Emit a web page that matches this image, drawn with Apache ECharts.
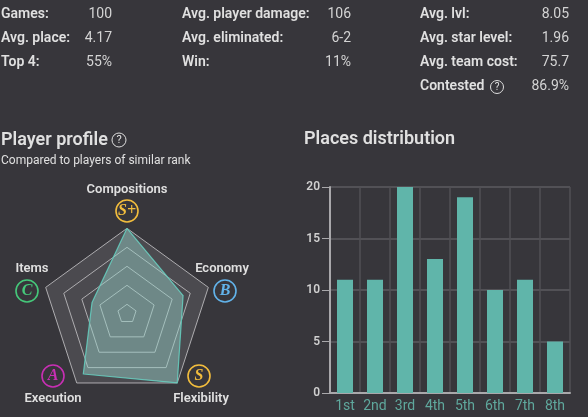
<!DOCTYPE html>
<html><head><meta charset="utf-8">
<style>html,body{margin:0;padding:0;background:#37363b}#c{width:588px;height:417px}</style>
<script src="https://cdn.jsdelivr.net/npm/echarts@6/dist/echarts.min.js"></script>
</head><body><div id="c"></div>
<script>
const places = ['1st','2nd','3rd','4th','5th','6th','7th','8th'];
const placeCounts = [11,11,20,13,19,10,11,5];
const yTicks = [0,5,10,15,20];
const profileAxes = ['Compositions','Items','Execution','Flexibility','Economy'];
const profileValues = [100,43,87,100,69];
const profileGrades = ['S+','C','A','S','B'];
const gradeColors = ['#f2bd3d','#45c87a','#c82fb4','#f2bd3d','#62b3ea'];
const statsCol1 = [['Games:','100'],['Avg. place:','4.17'],['Top 4:','55%']];
const statsCol2 = [['Avg. player damage:','106'],['Avg. eliminated:','6-2'],['Win:','11%']];
const statsCol3 = [['Avg. lvl:','8.05'],['Avg. star level:','1.96'],['Avg. team cost:','75.7'],['Contested','86.9%']];

const F='Roboto';
const g=[];
function txt(x,y,t,o={}){g.push({type:'text',x,y,silent:true,style:Object.assign({text:t,fill:'#e0e0e0',font:`${o.w||600} ${o.s||14}px ${F}`,textAlign:o.a||'left',textVerticalAlign:'middle'},o.extra||{})});}
function col(rows,lx,vx){rows.forEach((r,i)=>{const y=14.5+i*24;txt(lx,y,r[0],{w:600,s:14});txt(vx,y,r[1],{w:400,s:14,a:'right',extra:{fill:'#d4d4d4'}});});}
col(statsCol1,1,112);col(statsCol2,182,351);col(statsCol3,420,569);
function help(cx,cy,r,s){g.push({type:'circle',silent:true,shape:{cx,cy,r},style:{fill:'none',stroke:'#dedede',lineWidth:1}});
  txt(cx,cy+.5,'?',{w:400,s,a:'center'});}
help(497,87,6.5,10);
txt(1,140,'Player profile',{w:600,s:18});
help(119,140,7,11);
txt(1,160.5,'Compared to players of similar rank',{w:400,s:12});
txt(304,139,'Places distribution',{w:600,s:18});
const labelPos=[[127,189.5,127,211],[32,269,27,291],[53,399,53,376],[201,399,199,376],[222,269,225,291]];
profileAxes.forEach((n,i)=>{const p=labelPos[i];
  txt(p[0],p[1],n,{w:600,s:13,a:'center'});
  g.push({type:'circle',silent:true,shape:{cx:p[2],cy:p[3],r:11},style:{fill:'none',stroke:gradeColors[i],lineWidth:1.6}});
  g.push({type:'text',x:p[2],y:p[3],silent:true,style:{text:profileGrades[i],fill:gradeColors[i],font:`italic 700 16px "Liberation Serif"`,textAlign:'center',textVerticalAlign:'middle'}});
});

const chart=echarts.init(document.getElementById('c'),null,{renderer:'canvas'});
chart.setOption({
  backgroundColor:'#37363b',animation:false,
  grid:{left:330,top:187,width:240,height:206,containLabel:false},
  xAxis:{type:'category',data:places,boundaryGap:true,
    axisLine:{lineStyle:{color:'#a9a8ab',width:2}},axisTick:{show:false},
    axisLabel:{color:'#5fa89d',fontFamily:F,fontSize:14,margin:6,interval:0},
    splitLine:{show:true,interval:0,lineStyle:{color:'#525156',width:1.5}}},
  yAxis:{type:'value',min:0,max:20,interval:5,
    axisLine:{show:true,lineStyle:{color:'#a9a8ab',width:2}},
    axisTick:{show:true,length:8,lineStyle:{color:'#a9a8ab',width:1}},
    axisLabel:{color:'#cfcfcf',fontFamily:F,fontSize:12,fontWeight:600,margin:10,
      customValues:yTicks},
    splitLine:{show:true,lineStyle:{color:'#5c5b60',width:1.5}}},
  radar:{center:[127,313.8],radius:85.5,startAngle:90,splitNumber:9,shape:'polygon',
    indicator:profileAxes.map(n=>({name:n,max:100,min:0})),
    axisName:{show:false},
    axisLine:{show:false},
    splitLine:{lineStyle:{color:['transparent','#aeadb0'],width:1}},
    splitArea:{show:true,areaStyle:{color:['rgba(255,255,255,0.1)'],opacity:1}}},
  series:[
    {type:'bar',data:placeCounts,barWidth:16,itemStyle:{color:'#60b5aa'}},
    {type:'radar',symbol:'none',data:[{value:profileValues}],
     lineStyle:{color:'#55bcae',width:1.2},areaStyle:{color:'#98d5cb',opacity:0.45}}
  ],
  graphic:g
});
</script></body></html>
